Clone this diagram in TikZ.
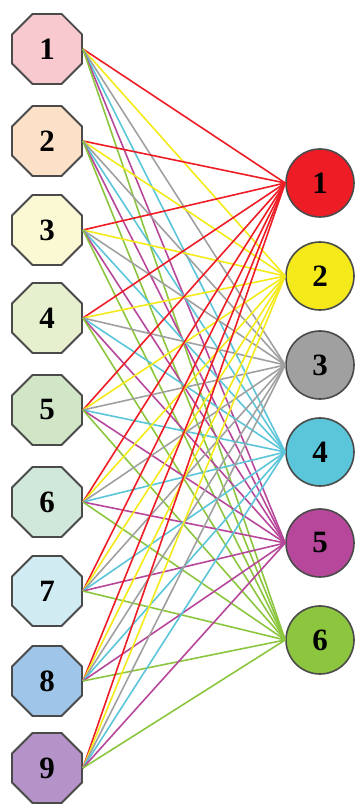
\documentclass[tikz,border=0pt]{standalone}
\usepackage{fontspec}
\setmainfont{Liberation Serif}
\usetikzlibrary{shapes.geometric}
\definecolor{L1}{HTML}{F8C9CF}
\definecolor{L2}{HTML}{FCE0C8}
\definecolor{L3}{HTML}{FBF8D4}
\definecolor{L4}{HTML}{E6F0CE}
\definecolor{L5}{HTML}{D0E6C6}
\definecolor{L6}{HTML}{D0E8DA}
\definecolor{L7}{HTML}{D0ECF2}
\definecolor{L8}{HTML}{9FC6E8}
\definecolor{L9}{HTML}{B494C8}
\definecolor{R1}{HTML}{EE1C25}
\definecolor{R2}{HTML}{F4EA1A}
\definecolor{R3}{HTML}{A0A0A0}
\definecolor{R4}{HTML}{5BC5D9}
\definecolor{R5}{HTML}{B7479A}
\definecolor{R6}{HTML}{8CC63F}
\definecolor{bord}{HTML}{4A4A4A}
\tikzset{
  octnode/.style={regular polygon, regular polygon sides=8, minimum size=75.8pt, inner sep=0pt, draw=bord, line width=1.8pt, font=\fontsize{31}{31}\selectfont\bfseries},
  cirnode/.style={circle, minimum size=68pt, inner sep=0pt, draw=bord, line width=1.6pt, font=\fontsize{31}{31}\selectfont\bfseries},
  edgeline/.style={line width=1.6pt}
}
\begin{document}
\begin{tikzpicture}[x=1pt,y=1pt]
\useasboundingbox (0,0) rectangle (356,804);
\foreach \i/\yy in {1/49,2/141,3/230,4/318,5/410,6/502,7/591,8/681,9/768}{
  \node[octnode, fill=L\i] (l\i) at (47,804-\yy) {\i};
}
\foreach \j/\yy in {1/183,2/276,3/365,4/452,5/543,6/640}{
  \node[cirnode, fill=R\j] (r\j) at (320,804-\yy) {\j};
}
\foreach \i in {1,...,9}{
  \foreach \j in {1,...,6}{
    \draw[edgeline, R\j] (l\i.east) -- (r\j.west);
  }
}
\end{tikzpicture}
\end{document}
